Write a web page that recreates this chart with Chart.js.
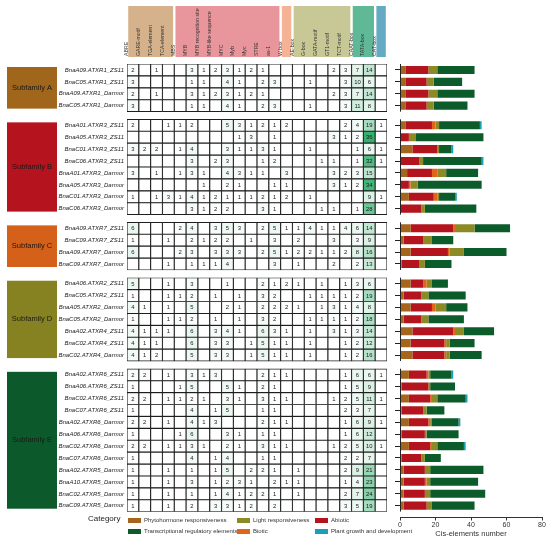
<!DOCTYPE html>
<html><head><meta charset="utf-8">
<script src="https://cdn.jsdelivr.net/npm/chart.js@4.4.0/dist/chart.umd.min.js"></script>
<style>
html,body{margin:0;padding:0;background:#fff;}
#wrap{position:relative;width:550px;height:540px;overflow:hidden;font-family:"Liberation Sans",Arial,sans-serif;}
#tblBox{position:absolute;left:0;top:0;width:390px;height:514px;}
#barBox{position:absolute;left:390px;top:0;width:160px;height:540px;}
#legend{position:absolute;left:0;top:0;width:400px;height:540px;pointer-events:none;}
.cat{position:absolute;left:88px;top:514px;font-size:8px;color:#222;}
.li{position:absolute;font-size:6px;color:#333;white-space:nowrap;line-height:7px;}
.sw{display:inline-block;width:13px;height:5px;vertical-align:middle;margin-right:3px;}
</style></head>
<body><div id="wrap">
<div id="tblBox"><canvas id="tbl"></canvas></div>
<div id="barBox"><canvas id="bar"></canvas></div>
<div id="legend"></div>
</div>
<script>
// ---------- data ----------
const columns = ['ABRE','GARE-motif','TGA-element','TCA-element','MBS','MYB','MYB recognition site','MYB-like sequence','MYC','Myb','Myc','STRE','as-1','W box','AE-box','G-box','GATA-motif','GT1-motif','TCT-motif','CAAT-box','TATA-box','CAT-box'];
const columnGroupSizes = [4, 9, 1, 5, 2, 1];
const columnGroupColors = ['#d6b28c','#e8969b','#f5b294','#c8c896','#5fb996','#64aac3'];

const subfamilies = ['Subfamily A','Subfamily B','Subfamily C','Subfamily D','Subfamily E'];
const subfamilyColors = ['#a0661c','#b5141e','#d4601a','#868222','#0c5a2c'];
const subfamilySizes = [4, 8, 4, 7, 12];

const genes = [
 'BnaA09.ATXR1_ZS11','BnaC05.ATXR1_ZS11','BnaA09.ATXR1_Darmor','BnaC05.ATXR1_Darmor',
 'BnaA01.ATXR3_ZS11','BnaA05.ATXR3_ZS11','BnaC01.ATXR3_ZS11','BnaC06.ATXR3_ZS11','BnaA01.ATXR3_Darmor','BnaA05.ATXR3_Darmor','BnaC01.ATXR3_Darmor','BnaC06.ATXR3_Darmor',
 'BnaA09.ATXR7_ZS11','BnaC09.ATXR7_ZS11','BnaA09.ATXR7_Darmor','BnaC09.ATXR7_Darmor',
 'BnaA06.ATXR2_ZS11','BnaC05.ATXR2_ZS11','BnaA05.ATXR2_Darmor','BnaC05.ATXR2_Darmor','BnaA02.ATXR4_ZS11','BnaC02.ATXR4_ZS11','BnaC02.ATXR4_Darmor',
 'BnaA02.ATXR6_ZS11','BnaA06.ATXR6_ZS11','BnaC02.ATXR6_ZS11','BnaC07.ATXR6_ZS11','BnaA02.ATXR6_Darmor','BnaA06.ATXR6_Darmor','BnaC02.ATXR6_Darmor','BnaC07.ATXR6_Darmor','BnaA02.ATXR5_Darmor','BnaA10.ATXR5_Darmor','BnaC02.ATXR5_Darmor','BnaC09.ATXR5_Darmor'
];

const counts = [
 [2,0,1,0, 0,3,1,2,3,1,2,1,0, 0, 0,0,0,2,3, 7,14, 0],
 [3,0,0,0, 0,1,1,0,4,1,0,2,3, 0, 0,1,0,0,3, 10,6, 0],
 [2,0,1,0, 0,3,1,2,3,1,2,1,0, 0, 0,0,0,2,3, 7,14, 0],
 [3,0,0,0, 0,1,1,0,4,1,0,2,3, 0, 0,1,0,0,3, 11,8, 0],
 [2,0,0,1, 1,2,0,0,5,3,1,2,1, 2, 0,0,0,0,2, 4,19, 1],
 [0,0,0,0, 0,0,0,0,0,1,3,0,1, 0, 0,0,0,3,1, 2,36, 0],
 [3,2,2,0, 1,4,0,0,3,1,1,3,1, 0, 0,1,0,0,0, 1,6, 1],
 [0,0,0,0, 0,3,0,2,3,0,0,1,2, 0, 0,0,1,1,0, 1,32, 1],
 [3,0,1,0, 1,3,1,0,4,3,1,1,0, 3, 0,0,0,3,2, 3,15, 0],
 [0,0,0,0, 0,0,1,0,2,1,0,0,1, 1, 0,0,0,3,1, 2,34, 0],
 [1,0,1,3, 1,4,1,2,1,1,1,2,1, 2, 0,1,0,0,0, 0,9, 1],
 [0,0,0,0, 0,3,1,2,2,0,0,3,1, 0, 0,0,1,1,0, 1,28, 0],
 [6,0,0,0, 2,4,0,3,5,3,0,2,5, 1, 1,4,1,1,4, 6,14, 0],
 [1,0,0,1, 0,2,1,2,2,0,1,0,3, 0, 2,0,0,3,0, 3,9, 0],
 [6,0,0,0, 2,3,0,3,3,3,0,2,5, 1, 2,2,1,1,2, 8,16, 0],
 [0,0,0,1, 0,1,1,1,4,0,0,0,3, 0, 1,0,0,2,0, 2,13, 0],
 [5,0,0,1, 0,3,0,0,1,0,0,2,1, 2, 1,0,1,0,1, 3,6, 0],
 [1,0,0,1, 1,2,0,1,0,1,0,3,2, 0, 0,1,1,1,1, 2,19, 0],
 [4,1,0,1, 0,5,0,0,2,1,0,2,2, 2, 1,0,1,3,1, 4,8, 0],
 [1,0,0,1, 1,2,0,1,0,1,0,3,2, 0, 0,1,1,1,1, 2,18, 0],
 [4,1,1,1, 0,6,0,3,4,1,0,6,3, 1, 0,1,0,3,1, 3,14, 0],
 [4,1,1,0, 0,6,0,3,3,0,1,5,1, 1, 0,1,0,0,1, 2,12, 0],
 [4,1,2,0, 0,5,0,3,3,0,1,5,1, 1, 0,1,0,0,1, 2,16, 0],
 [2,2,0,1, 0,3,1,3,0,0,0,2,1, 1, 0,0,0,0,1, 6,6, 1],
 [1,0,0,0, 1,5,0,0,5,1,0,2,1, 0, 0,0,0,0,1, 5,9, 0],
 [2,2,0,1, 1,2,1,0,3,1,0,3,1, 1, 0,0,0,1,2, 5,11, 1],
 [1,0,0,0, 0,4,0,1,5,0,0,1,1, 0, 0,0,0,0,2, 3,7, 0],
 [2,2,0,1, 0,4,1,3,0,0,0,2,1, 1, 0,0,0,0,1, 6,9, 1],
 [1,0,0,0, 1,6,0,0,3,1,0,1,1, 0, 0,0,0,0,1, 6,12, 0],
 [2,2,0,1, 1,3,1,0,2,1,0,3,1, 1, 0,0,0,1,2, 5,10, 1],
 [1,0,0,0, 0,4,0,1,4,0,0,1,1, 0, 0,0,0,0,2, 2,7, 0],
 [1,0,0,1, 0,1,0,1,5,0,2,2,1, 0, 1,0,0,0,2, 9,21, 0],
 [1,0,0,1, 0,3,0,1,2,3,1,0,2, 1, 1,0,0,0,1, 4,23, 0],
 [1,0,0,1, 0,1,0,1,4,1,2,2,1, 0, 1,0,0,0,2, 7,24, 0],
 [1,0,0,1, 0,2,0,3,3,1,2,0,2, 0, 0,0,0,0,3, 5,19, 0]
];

const categoryNames = ['Phytohormone responsiveness','Abiotic','Biotic','Light responsiveness','Transcriptional regulatory elements','Plant growth and development'];
const categoryColors = ['#a5651d','#b3141d','#e0651b','#8c8a25','#0b5b2b','#1b9fb5'];
const phytohormone = [3,3,3,3, 3,0,7,0,4,0,5,0, 6,2,6,1, 6,2,6,2,7,6,7, 5,1,5,1,5,1,5,1,2,2,2,2];
const abiotic      = [13,12,13,12, 15,5,14,11,14,5,14,12, 24,11,21,10, 7,10,12,10,23,19,18, 10,15,12,12,11,13,12,11,12,12,12,13];
const biotic       = [0,0,0,0, 2,0,0,0,3,1,2,0, 1,0,1,0, 2,0,2,0,1,1,1, 1,0,1,0,1,0,1,0,0,1,0,0];
const light        = [5,4,5,4, 2,4,1,2,5,4,1,2, 11,5,8,3, 3,4,6,4,5,2,2, 1,1,3,2,1,1,3,2,3,2,3,3];
const transcription= [21,16,21,19, 23,38,7,33,18,36,9,29, 20,12,24,15, 9,21,12,20,17,14,18, 12,14,16,10,15,18,15,9,30,27,31,24];
const growth       = [0,0,0,0, 1,0,1,1,0,0,1,0, 0,0,0,0, 0,0,0,0,0,0,0, 1,0,1,0,1,0,1,0,0,0,0,0];
const categorySeries = [phytohormone, abiotic, biotic, light, transcription, growth];
const legendOrder = [[0,3,1],[4,2,5]];
const xTicks = [0,20,40,60,80];

// ---------- layout helpers ----------
const GAP = 0.65;
const rowPos = [];
(function(){ let idx = 0; subfamilySizes.forEach((n,g)=>{ for(let i=0;i<n;i++){ rowPos.push(idx + g*GAP); idx++; } }); })();
const yMax = rowPos[rowPos.length-1] + 0.5;
const FONT = '"Liberation Sans", Arial, sans-serif';

function cellColor(v){
  if(!v) return '#ffffff';
  const t = Math.min(1, Math.pow(v/38, 1.25));
  const r = Math.round(255 + (40-255)*t), g = Math.round(255 + (170-255)*t), b = Math.round(255 + (100-255)*t);
  return `rgb(${r},${g},${b})`;
}

const cellData = [];
counts.forEach((row,r)=>row.forEach((v,c)=>cellData.push({x:[c,c+1], y:rowPos[r], v:v})));

// ---------- table chart ----------
const tablePlugin = {
  id:'tableDeco',
  beforeDraw(chart){
    const {ctx, scales:{x,y}} = chart;
    ctx.save();
    let c0 = 0;
    columnGroupSizes.forEach((n,g)=>{
      const l = x.getPixelForValue(c0)+1.2, r = x.getPixelForValue(c0+n)-1.2;
      ctx.fillStyle = columnGroupColors[g];
      ctx.fillRect(l, 6, r-l, 51);
      c0 += n;
    });
    let idx = 0;
    subfamilySizes.forEach((n,g)=>{
      const top = y.getPixelForValue(rowPos[idx]-0.5)+3;
      const bot = y.getPixelForValue(rowPos[idx+n-1]+0.5)-3;
      ctx.fillStyle = subfamilyColors[g];
      ctx.fillRect(7, top, 50, bot-top);
      ctx.fillStyle = '#1a1a1a';
      ctx.font = '7.5px ' + FONT;
      ctx.textAlign = 'center'; ctx.textBaseline = 'middle';
      ctx.fillText(subfamilies[g], 32, (top+bot)/2);
      idx += n;
    });
    ctx.restore();
  },
  afterDatasetsDraw(chart){
    const {ctx} = chart;
    const meta = chart.getDatasetMeta(0);
    ctx.save();
    ctx.font = '5.9px ' + FONT;
    ctx.fillStyle = '#1a1a1a';
    ctx.textAlign = 'center'; ctx.textBaseline = 'middle';
    meta.data.forEach((el,i)=>{
      const v = cellData[i].v;
      if(!v) return;
      ctx.fillText(String(v), (el.x+el.base)/2, el.y+0.3);
    });
    ctx.restore();
  }
};

new Chart(document.getElementById('tbl'), {
  type:'bar',
  data:{ datasets:[{
    data: cellData,
    backgroundColor: (ctx)=> ctx.raw ? cellColor(ctx.raw.v) : '#fff',
    borderColor:'#1e1e1e', borderWidth:0.9, borderSkipped:false,
    barPercentage:1, categoryPercentage:1
  }]},
  options:{
    indexAxis:'y', responsive:true, maintainAspectRatio:false, animation:false,
    layout:{padding:{top:0,right:3,bottom:2.3,left:0}},
    plugins:{legend:{display:false}, tooltip:{enabled:false}},
    scales:{
      x:{ type:'linear', position:'top', min:0, max:columns.length, offset:false,
          grid:{display:false, drawTicks:false, offset:false}, border:{display:false},
          afterBuildTicks:(s)=>{ s.ticks = columns.map((_,i)=>({value:i+0.5})); },
          afterFit:(s)=>{ s.height = 64; },
          ticks:{ autoSkip:false, minRotation:90, maxRotation:90, padding:8,
                  font:{size:5.2, family:FONT}, color:'#333',
                  callback:(v,i)=>columns[i] } },
      y:{ type:'linear', reverse:true, min:-0.5, max:yMax, offset:false, grace:0,
          grid:{display:false, drawTicks:false, offset:false}, border:{display:false},
          afterBuildTicks:(s)=>{ s.ticks = rowPos.map(v=>({value:v})); },
          afterFit:(s)=>{ s.width = 127; s.paddingTop = 0; s.paddingBottom = 0; },
          ticks:{ autoSkip:false, padding:3, font:{size:6, style:'italic', family:FONT}, color:'#222',
                  callback:(v,i)=>genes[i] } }
    }
  },
  plugins:[tablePlugin]
});

// ---------- bar chart ----------
const axisPlugin = {
  id:'brokenAxis',
  afterDraw(chart){
    const {ctx, chartArea, scales:{y}} = chart;
    ctx.save();
    ctx.strokeStyle = '#222'; ctx.lineWidth = 1;
    let idx = 0;
    subfamilySizes.forEach((n)=>{
      const top = y.getPixelForValue(rowPos[idx]-0.5);
      const bot = y.getPixelForValue(rowPos[idx+n-1]+0.5);
      ctx.beginPath(); ctx.moveTo(chartArea.left+0.5, top); ctx.lineTo(chartArea.left+0.5, bot); ctx.stroke();
      idx += n;
    });
    ctx.restore();
  }
};

new Chart(document.getElementById('bar'), {
  type:'bar',
  data:{ datasets: categoryNames.map((name,k)=>({
    label:name,
    data: categorySeries[k].map((v,i)=>({x:v, y:rowPos[i]})),
    backgroundColor: categoryColors[k], borderWidth:0,
    barPercentage:0.68, categoryPercentage:1
  }))},
  options:{
    indexAxis:'y', responsive:true, maintainAspectRatio:false, animation:false,
    layout:{padding:{top:64,right:8,bottom:0,left:0}},
    plugins:{legend:{display:false}, tooltip:{enabled:false}},
    scales:{
      x:{ type:'linear', stacked:true, min:0, max:80,
          afterBuildTicks:(s)=>{ s.ticks = xTicks.map(v=>({value:v})); },
          afterFit:(s)=>{ s.height = 22.5; },
          grid:{drawOnChartArea:false, drawTicks:true, tickLength:3, color:'#333'},
          border:{display:true, color:'#333', width:1},
          ticks:{ padding:0, font:{size:7, family:FONT}, color:'#333' },
          title:{ display:true, text:'Cis-elements number', font:{size:7.5, family:FONT}, color:'#333', padding:{top:0,bottom:2} } },
      y:{ type:'linear', stacked:true, reverse:true, min:-0.5, max:yMax+0.5, offset:false, grace:0,
          afterBuildTicks:(s)=>{ s.ticks = rowPos.map(v=>({value:v})); },
          afterFit:(s)=>{ s.width = 10; },
          grid:{drawOnChartArea:false, drawTicks:true, tickLength:5, color:'#222', offset:false},
          border:{display:false},
          ticks:{ display:false, autoSkip:false } }
    }
  },
  plugins:[axisPlugin]
});

// ---------- legend ----------
(function(){
  const L = document.getElementById('legend');
  const cat = document.createElement('div'); cat.className='cat'; cat.textContent='Category'; L.appendChild(cat);
  const colX = [128, 237, 315], rowY = [517, 528];
  legendOrder.forEach((row,ri)=>row.forEach((k,ci)=>{
    const d = document.createElement('div'); d.className='li';
    d.style.left = colX[ci]+'px'; d.style.top = rowY[ri]+'px';
    const s = document.createElement('span'); s.className='sw'; s.style.background = categoryColors[k];
    d.appendChild(s); d.appendChild(document.createTextNode(categoryNames[k]));
    L.appendChild(d);
  }));
})();
</script>
</body></html>
